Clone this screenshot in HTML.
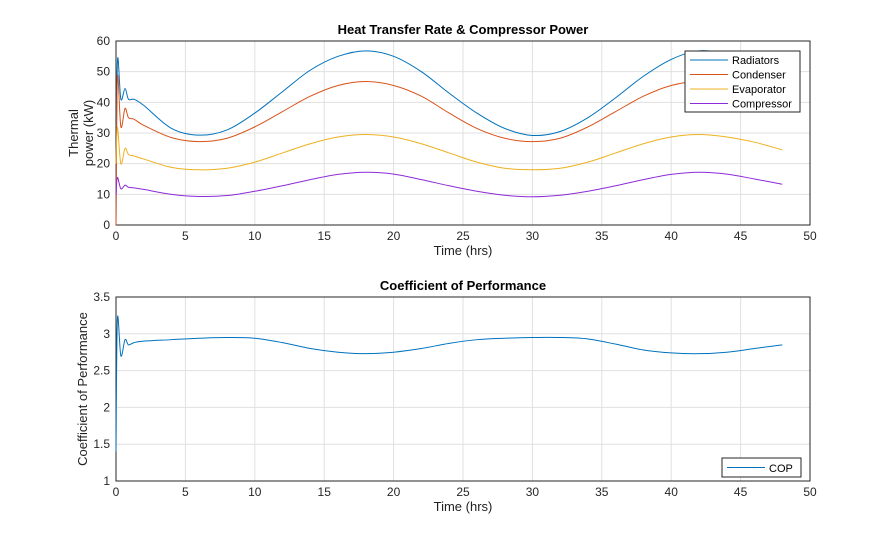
<!DOCTYPE html>
<html><head><meta charset="utf-8"><style>
body{margin:0;background:#fff}
svg{display:block;font-family:"Liberation Sans",Arial,sans-serif}
</style></head><body>
<svg id="c" width="895" height="540"></svg>
<script>
const times=[0,0.1,0.35,0.65,0.9,1.3,2,4,6,8,10,12,14,16,18,20,22,24,26,28,30,32,34,36,38,40,42,44,46,48];
const radiators=[0,53,41,44.5,41,41,39,31.5,29.3,31,36.5,43.5,50.5,55,56.8,55,50,43,36.5,31.5,29.2,30.5,35,41.5,48.5,54,56.8,55.5,51,45];
const condenser=[0,48,32,38,35,34.5,32.5,28.5,27.2,28.3,32,37,42,45.5,46.8,45.5,42,36.5,31.5,28.3,27.2,28.3,32,37,42,45.5,46.8,45.5,42,37];
const evaporator=[20,32,20,25,23,22.5,21.5,18.8,18,18.5,20.5,23.5,26.5,28.7,29.5,28.7,26.5,23.5,20.5,18.5,18,18.5,20.5,23.5,26.5,28.7,29.5,28.7,27,24.5];
const compressor=[10,15.5,11.8,13,12.3,12.1,11.6,10,9.3,9.6,11,12.8,14.8,16.5,17.2,16.6,14.8,12.8,11,9.7,9.2,9.7,11,12.8,14.8,16.5,17.2,16.6,15,13.3];
const cop=[1.4,3.2,2.7,2.92,2.85,2.88,2.9,2.92,2.94,2.95,2.94,2.88,2.8,2.75,2.73,2.75,2.8,2.87,2.92,2.94,2.95,2.95,2.93,2.86,2.78,2.74,2.73,2.75,2.8,2.85];
const xTicks=[0,5,10,15,20,25,30,35,40,45,50];
const yTicksTop=[0,10,20,30,40,50,60];
const yTicksBot=[1,1.5,2,2.5,3,3.5];
const seriesNames=["Radiators","Condenser","Evaporator","Compressor"];
const colors=["#0072BD","#D95319","#EDB120","#8E2BD8"];

const svg=document.getElementById('c');
const NS="http://www.w3.org/2000/svg";
function mk(tag,attrs,parent){const e=document.createElementNS(NS,tag);for(const k in attrs)e.setAttribute(k,attrs[k]);(parent||svg).appendChild(e);return e;}
const L=116,R=810;
function xs(t){return L+(t/50)*(R-L);}
function path(xf,yf,ys){const p=times.map((t,i)=>[xf(t),yf(ys[i])]);
 let d="M"+p[0][0]+","+p[0][1];
 for(let i=0;i<p.length-1;i++){const p0=p[Math.max(0,i-1)],p1=p[i],p2=p[i+1],p3=p[Math.min(p.length-1,i+2)];
  const c1=[p1[0]+(p2[0]-p0[0])/6,p1[1]+(p2[1]-p0[1])/6],c2=[p2[0]-(p3[0]-p1[0])/6,p2[1]-(p3[1]-p1[1])/6];
  d+=`C${c1[0]},${c1[1]} ${c2[0]},${c2[1]} ${p2[0]},${p2[1]}`;}
 return d;}
function axes(ty,by,ymin,ymax,yt,title,name){
 const ysf=v=>by-(v-ymin)/(ymax-ymin)*(by-ty);
 const g=mk('g',{});
 
 
 xTicks.forEach(t=>{mk('line',{x1:xs(t),x2:xs(t),y1:ty,y2:by,stroke:'#e0e0e0','stroke-width':1},g);
  const tx=mk('text',{x:xs(t),y:by+15,'text-anchor':'middle','font-size':12,fill:'#262626'},g);tx.textContent=t;
  
  });
 yt.forEach(v=>{mk('line',{x1:L,x2:R,y1:ysf(v),y2:ysf(v),stroke:'#e0e0e0','stroke-width':1},g);
  const tx=mk('text',{x:L-6,y:ysf(v)+4,'text-anchor':'end','font-size':12,fill:'#262626'},g);tx.textContent=v;
  
  });
 mk('rect',{x:L,y:ty,width:R-L,height:by-ty,fill:'none',stroke:'#262626','stroke-width':1},g);
 const ti=mk('text',{x:(L+R)/2,y:ty-7,'text-anchor':'middle','font-size':13,'font-weight':'bold',fill:'#000'},g);ti.textContent=title;
 
 
 const xl=mk('text',{x:(L+R)/2,y:by+30,'text-anchor':'middle','font-size':13,fill:'#222'},g);xl.textContent='Time (hrs)';
 
 
 return {g,ysf};}
const topAx=axes(41,225,0,60,yTicksTop,'Heat Transfer Rate & Compressor Power','top-plot');
const yl1=mk('text',{'font-size':13,fill:'#222','text-anchor':'middle',transform:'translate(78,133) rotate(-90)'});


const ts1=mk('tspan',{x:0,dy:0},yl1);ts1.textContent='Thermal';
const ts2=mk('tspan',{x:0,dy:15},yl1);ts2.textContent='power (kW)';
[radiators,condenser,evaporator,compressor].forEach((s,i)=>{
 const p=mk('path',{d:path(xs,topAx.ysf,s),fill:'none',stroke:colors[i],'stroke-width':1});
 
 });
const lg=mk('g',{});


mk('rect',{x:685,y:51,width:115,height:61,fill:'#fff',stroke:'#262626','stroke-width':1},lg);
seriesNames.forEach((n,i)=>{const y=60+i*14.5;
 mk('line',{x1:690,x2:728,y1:y,y2:y,stroke:colors[i],'stroke-width':1},lg);
 const t=mk('text',{x:732,y:y+4,'font-size':11,fill:'#000'},lg);t.textContent=n;
 
 });
const botAx=axes(297,481,1,3.5,yTicksBot,'Coefficient of Performance','bottom-plot');
const yl2=mk('text',{'font-size':13,fill:'#222','text-anchor':'middle',transform:'translate(87,389) rotate(-90)'});
yl2.textContent='Coefficient of Performance';


const cp=mk('path',{d:path(xs,botAx.ysf,cop),fill:'none',stroke:colors[0],'stroke-width':1});


const lg2=mk('g',{});


mk('rect',{x:722,y:458,width:79,height:19,fill:'#fff',stroke:'#262626','stroke-width':1},lg2);
mk('line',{x1:727,x2:765,y1:467.5,y2:467.5,stroke:colors[0],'stroke-width':1},lg2);
const ct=mk('text',{x:769,y:472,'font-size':11,fill:'#000'},lg2);ct.textContent='COP';


</script>
</body></html>
